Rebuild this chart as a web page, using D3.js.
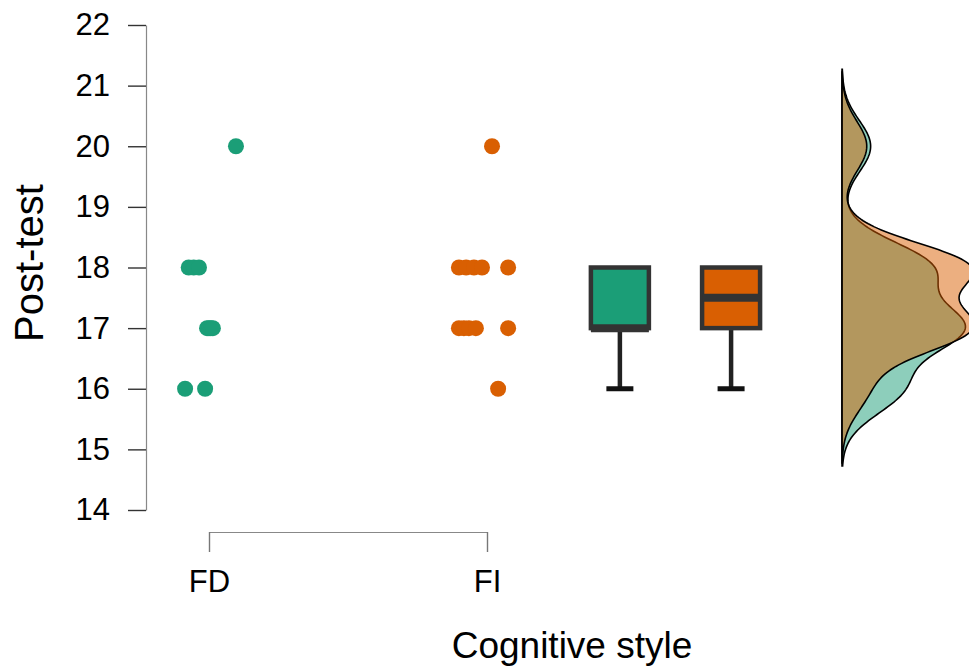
<!DOCTYPE html>
<html>
<head>
<meta charset="utf-8">
<script src="https://cdn.jsdelivr.net/npm/d3@7"></script>
<style>
  body { margin: 0; background: #fff; }
  text { font-family: "Liberation Sans", Arial, sans-serif; fill: #000; }
</style>
</head>
<body>
<div class="chart-container"></div>
<script>
// values
const groups = ["FD", "FI"];
const colors = ["#1B9E77", "#D95F02"];
const fdScores = [20, 18, 18, 18, 17, 17, 17, 17, 16, 16];
const fdJitter = [0.097, -0.073, -0.055, -0.036, -0.007, 0.000, 0.007, 0.014, -0.086, -0.014];
const fiScores = [20, 18, 18, 18, 18, 18, 17, 17, 17, 17, 17, 16];
const fiJitter = [0.018, -0.101, -0.075, -0.047, -0.018, 0.076, -0.101, -0.083, -0.065, -0.040, 0.076, 0.040];
const yTicks = [14, 15, 16, 17, 18, 19, 20, 21, 22];

const width = 969, height = 667;

const svg = d3.select(".chart-container").append("svg")
    .attr("width", width)
    .attr("height", height);

// x: category positions in units (FD = 1, FI = 2), rest placed to the right
const x = d3.scaleLinear().domain([1, 2]).range([209, 487]);
const y = d3.scaleLinear().domain([14, 22]).range([510, 25]);

const boxPos = [2.478, 2.878];
const densityBase = 3.277;

// y axis
const yAxis = svg.append("g")
    .attr("transform", "translate(146,0)")
    .call(d3.axisLeft(y).tickValues(yTicks).tickSize(18).tickSizeOuter(0).tickPadding(18));
yAxis.select(".domain").attr("stroke", "#888").attr("stroke-width", 1.2);
yAxis.selectAll(".tick line").attr("stroke", "#333").attr("stroke-width", 1.4);
yAxis.selectAll(".tick text").attr("font-size", 31).attr("fill", "#000")
    .style("font-family", "'Liberation Sans', Arial, sans-serif");

// x axis (only spans the two groups)
const xPoint = d3.scalePoint().domain(groups).range([x(1), x(2)]);
const xAxis = svg.append("g")
    .attr("transform", "translate(0,532)")
    .call(d3.axisBottom(xPoint).tickSize(20).tickSizeOuter(0).tickPadding(18));
xAxis.select(".domain").attr("stroke", "#888").attr("stroke-width", 1.2);
xAxis.selectAll(".tick line").attr("stroke", "#777").attr("stroke-width", 1.4);
xAxis.selectAll(".tick text").attr("font-size", 31).attr("fill", "#000")
    .style("font-family", "'Liberation Sans', Arial, sans-serif");

// axis titles
svg.append("text")
    .attr("transform", "translate(43,263) rotate(-90)")
    .attr("text-anchor", "middle")
    .attr("font-size", 40)
    .text("Post-test");

svg.append("text")
    .attr("x", 572)
    .attr("y", 658)
    .attr("text-anchor", "middle")
    .attr("font-size", 37)
    .text("Cognitive style");

const data = [
    { name: "FD", scores: fdScores, jitter: fdJitter, color: colors[0], idx: 0 },
    { name: "FI", scores: fiScores, jitter: fiJitter, color: colors[1], idx: 1 }
];

// jittered points
data.forEach(g => {
    svg.append("g").selectAll("circle")
        .data(g.scores)
        .join("circle")
        .attr("cx", (d, i) => x(g.idx + 1 + g.jitter[i]))
        .attr("cy", d => y(d))
        .attr("r", 8)
        .attr("fill", g.color);
});

// box plots
const boxW = 58, capW = 27;
data.forEach(g => {
    const s = g.scores.slice().sort(d3.ascending);
    const q1 = d3.quantile(s, 0.25), med = d3.quantile(s, 0.5), q3 = d3.quantile(s, 0.75);
    const iqr = q3 - q1;
    const lo = d3.min(s.filter(v => v >= q1 - 1.5 * iqr));
    const hi = d3.max(s.filter(v => v <= q3 + 1.5 * iqr));
    const cx = x(boxPos[g.idx]);
    const b = svg.append("g");
    if (lo < q1) {
        b.append("line").attr("x1", cx).attr("x2", cx).attr("y1", y(q1)).attr("y2", y(lo))
            .attr("stroke", "#222").attr("stroke-width", 4.5);
        b.append("line").attr("x1", cx - capW / 2).attr("x2", cx + capW / 2).attr("y1", y(lo)).attr("y2", y(lo))
            .attr("stroke", "#111").attr("stroke-width", 5);
    }
    if (hi > q3) {
        b.append("line").attr("x1", cx).attr("x2", cx).attr("y1", y(q3)).attr("y2", y(hi))
            .attr("stroke", "#222").attr("stroke-width", 4.5);
        b.append("line").attr("x1", cx - capW / 2).attr("x2", cx + capW / 2).attr("y1", y(hi)).attr("y2", y(hi))
            .attr("stroke", "#111").attr("stroke-width", 5);
    }
    b.append("rect")
        .attr("x", cx - boxW / 2)
        .attr("y", y(q3))
        .attr("width", boxW)
        .attr("height", y(q1) - y(q3))
        .attr("fill", g.color)
        .attr("stroke", "#333")
        .attr("stroke-width", 4.5);
    b.append("line")
        .attr("x1", cx - boxW / 2).attr("x2", cx + boxW / 2)
        .attr("y1", y(med)).attr("y2", y(med))
        .attr("stroke", "#333").attr("stroke-width", 8);
});

// half-violin densities (gaussian kde, bw.nrd0, cut = 3)
function bwNrd0(v) {
    const s = v.slice().sort(d3.ascending);
    const iqr = d3.quantile(s, 0.75) - d3.quantile(s, 0.25);
    const lo = Math.min(d3.deviation(s), iqr / 1.34);
    return 0.9 * lo * Math.pow(s.length, -0.2);
}
function kde(v, bw, n) {
    const from = d3.min(v) - 3 * bw, to = d3.max(v) + 3 * bw;
    const pts = [];
    for (let i = 0; i < n; i++) {
        const t = from + (to - from) * i / (n - 1);
        const dens = d3.mean(v, d => Math.exp(-0.5 * ((t - d) / bw) ** 2)) / (bw * Math.sqrt(2 * Math.PI));
        pts.push([t, dens]);
    }
    return pts;
}
data.forEach(g => { g.density = kde(g.scores, bwNrd0(g.scores), 256); });

const densMax = d3.max(data, g => d3.max(g.density, d => d[1]));
const dx = d3.scaleLinear().domain([0, densMax]).range([x(densityBase), x(densityBase) + 132]);

const area = d3.area()
    .y(d => y(d[0]))
    .x0(dx(0))
    .x1(d => dx(d[1]));

data.forEach(g => {
    svg.append("path")
        .datum(g.density)
        .attr("d", area)
        .attr("fill", g.color)
        .attr("fill-opacity", 0.5)
        .attr("stroke", "#000")
        .attr("stroke-width", 1.6);
});
</script>
</body>
</html>
